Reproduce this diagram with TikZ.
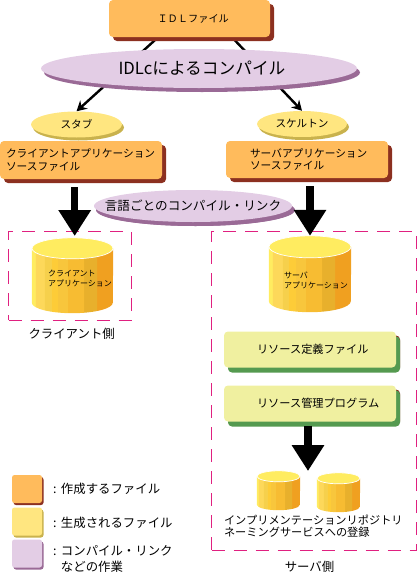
\documentclass[tikz,border=0pt]{standalone}
\usepackage{fontspec}
\setmainfont{Noto Sans CJK JP}
\usetikzlibrary{arrows.meta,shapes.geometric,shadows,backgrounds}
\definecolor{sakusei}{HTML}{FFBB5C}
\definecolor{sakuseid}{HTML}{8C3020}
\definecolor{seisei}{HTML}{FFE680}
\definecolor{seiseid}{HTML}{C9B24D}
\definecolor{sagyo}{HTML}{E3CDE5}
\definecolor{sagyod}{HTML}{9A6A96}
\definecolor{risosu}{HTML}{F0F0A0}
\definecolor{risosud}{HTML}{559A50}
\definecolor{hako}{HTML}{E02080}
\definecolor{canue}{HTML}{FFEC60}
\definecolor{cana}{HTML}{FDD85A}
\definecolor{canb}{HTML}{F6D04C}
\definecolor{canc}{HTML}{FDCC38}
\definecolor{cand}{HTML}{F8C63C}
\definecolor{cane}{HTML}{F7BC32}
\definecolor{canf}{HTML}{E8B02C}
\definecolor{cang}{HTML}{F0A020}
\pgfdeclarehorizontalshading{canshade}{100bp}{
  color(0bp)=(canue); color(27bp)=(canue);
  color(27bp)=(cana); color(33bp)=(cana);
  color(33bp)=(canb); color(37bp)=(canb);
  color(37bp)=(canc); color(41bp)=(canc);
  color(41bp)=(cand); color(47bp)=(cand);
  color(47bp)=(cane); color(57bp)=(cane);
  color(57bp)=(canf); color(65bp)=(canf);
  color(65bp)=(cang); color(100bp)=(cang)}
\newcommand{\moji}[2]{\fontsize{#1}{#2}\selectfont}
% name, x, y, width, height, end radius
\newcommand{\dbcan}[6]{
  \node[rectangle,minimum width=#4,minimum height=#5,inner sep=0pt] (#1) at (#2,#3) {};
  \shade[shading=canshade,shading angle=0]
    ([yshift=-#6]#1.north west) -- ([yshift=#6]#1.south west)
    arc[start angle=180,end angle=360,x radius=#4/2,y radius=#6]
    -- ([yshift=-#6]#1.north east) -- cycle;
  \fill[canue,draw=white,line width=0.7pt] ([yshift=-#6]#1.north) ellipse ({#4/2} and #6);
}
\tikzset{
  filebox/.style={rectangle,rounded corners=4pt,fill=sakusei,anchor=center,inner ysep=0pt,
    align=left,font=\moji{10.7}{12.7},
    general shadow={fill=sakuseid,shadow xshift=4pt,shadow yshift=-4pt}},
  resbox/.style={filebox,fill=risosu,minimum width=172pt,text width=106pt,inner xsep=33pt,
    minimum height=36pt,font=\moji{11.2}{13},
    general shadow={fill=risosud,shadow xshift=4pt,shadow yshift=-5pt}},
  genoval/.style={ellipse,inner sep=0pt,fill=seisei,font=\moji{10.6}{12},
    general shadow={fill=seiseid,shadow xshift=2pt,shadow yshift=-3pt}},
  workoval/.style={ellipse,inner sep=0pt,fill=sagyo,
    general shadow={fill=sagyod,shadow xshift=3pt,shadow yshift=-4pt}},
  dashbox/.style={rectangle,draw=hako,line width=1pt,dash pattern=on 13pt off 9pt,inner sep=0pt},
  cantext/.style={anchor=west,align=left,font=\moji{8}{10}},
  sidetext/.style={font=\moji{12.4}{14}},
  keybox/.style={rectangle,rounded corners=2.5pt,minimum width=30pt,minimum height=28pt,inner sep=0pt},
  keytext/.style={anchor=west,align=left,font=\moji{12.4}{16}},
  thinarrow/.style={line width=2.4pt,-{Stealth[length=10pt,width=11pt]}},
  bigarrow/.style={line width=7.5pt,-{Triangle[length=26pt,width=31pt]}}
}
\begin{document}
\begin{tikzpicture}[x=1pt,y=-1pt]
  \useasboundingbox (0,0) rectangle (417,573);
  % --- IDL
  \node[filebox,minimum width=161pt,minimum height=37pt,text width=120pt,inner xsep=20.5pt,
        font=\moji{10.2}{12}] (idl) at (189.5,18.5) {\hspace{28pt}ＩＤＬファイル};
  \node[workoval,minimum width=316pt,minimum height=39pt,font=\moji{16.7}{18}] (idlc) at (199,68.5) {\hspace{6pt}IDLcによるコンパイル};
  % --- stub / skeleton
  \node[genoval,minimum width=91pt,minimum height=26pt] (stub) at (76.5,124.5) {スタブ};
  \node[genoval,minimum width=90pt,minimum height=26pt] (skel) at (302,124) {スケルトン};
  \coordinate (idlleft) at (165,31);
  \coordinate (idlright) at (226,31);
  \begin{scope}[on background layer]
    \draw[thinarrow] (idlleft) -- (stub.north);
    \draw[thinarrow] (idlright) -- (skel.north);
  \end{scope}
  % --- source files
  \node[filebox,minimum width=162pt,minimum height=38pt,text width=150pt,inner xsep=6pt] (clientsrc) at (81,160) {クライアントアプリケーション\\ソースファイル};
  \node[filebox,minimum width=162pt,minimum height=37pt,text width=138pt,inner xsep=12pt,
        ] (serversrc) at (307,159.5) {\hspace{12pt}サーバアプリケーション\\\hspace{12pt}ソースファイル};
  \node[workoval,minimum width=198pt,minimum height=32pt,font=\moji{12.6}{14},
        general shadow={fill=sagyod,shadow xshift=2pt,shadow yshift=-4pt}] (link) at (193,206) {\makebox[0pt]{言語ごとのコンパイル・リンク}};
  % --- client side
  \node[dashbox,minimum width=122.5pt,minimum height=89pt] (clientside) at (69.75,275.5) {};
  \dbcan{clientcan}{72.5}{275.5}{81pt}{75pt}{10.5pt}
  \node[cantext] (clientcantxt) at (44.5,278) {クライアント\\アプリケーション};
  \node[sidetext] (clientlabel) at (71.7,334) {クライアント側};
  % --- server side
  \node[dashbox,minimum width=205pt,minimum height=318.5pt] (serverside) at (314,390.75) {};
  \dbcan{servercan}{310}{274}{82pt}{76pt}{11pt}
  \node[cantext] (servercantxt) at (280.5,280) {サーバ\\アプリケーション};
  \node[resbox] (resdef) at (310,349.5) {リソース定義ファイル};
  \node[resbox] (resmgr) at (310,403.5) {リソース管理プログラム};
  \dbcan{repoa}{278.5}{490.5}{43pt}{39pt}{5.5pt}
  \dbcan{repob}{338.5}{492.5}{43pt}{39pt}{5.5pt}
  \node[anchor=west,align=left,font=\moji{11.2}{12.3}] (regtext) at (220.5,526) {インプリメンテーションリポジトリ\\ネーミングサービスへの登録};
  \node[sidetext] (serverlabel) at (309.5,566.5) {サーバ側};
  % --- big arrows
  \coordinate (clienttip) at (74.7,236);
  \coordinate (regtip) at (308,471);
  \draw[bigarrow,shorten <=8pt] (clientsrc.south -| clienttip) -- (clienttip);
  \draw[bigarrow,shorten <=8pt] (serversrc.south -| servercan.north) -- (servercan.north);
  \draw[bigarrow,shorten <=4pt] (resmgr.south -| regtip) -- (regtip);
  % --- legend
  \node[keybox,fill=sakusei,general shadow={fill=sakuseid,shadow xshift=1.5pt,shadow yshift=-2pt}] (keya) at (27,489) {};
  \node[keybox,fill=seisei,general shadow={fill=seiseid,shadow xshift=1.5pt,shadow yshift=-2pt}] (keyb) at (27,521.5) {};
  \node[keybox,fill=sagyo,general shadow={fill=sagyod,shadow xshift=1.5pt,shadow yshift=-2pt}] (keyc) at (27,553.5) {};
  \node[keytext] (keyatxt) at (49.5,489) {:\hspace{4.5pt}作成するファイル};
  \node[keytext] (keybtxt) at (49.5,523) {:\hspace{4.5pt}生成されるファイル};
  \node[keytext] (keyctxt) at (49.5,559) {:\hspace{4.5pt}コンパイル・リンク\\\phantom{:}\hspace{4.5pt}などの作業};
\end{tikzpicture}
\end{document}
